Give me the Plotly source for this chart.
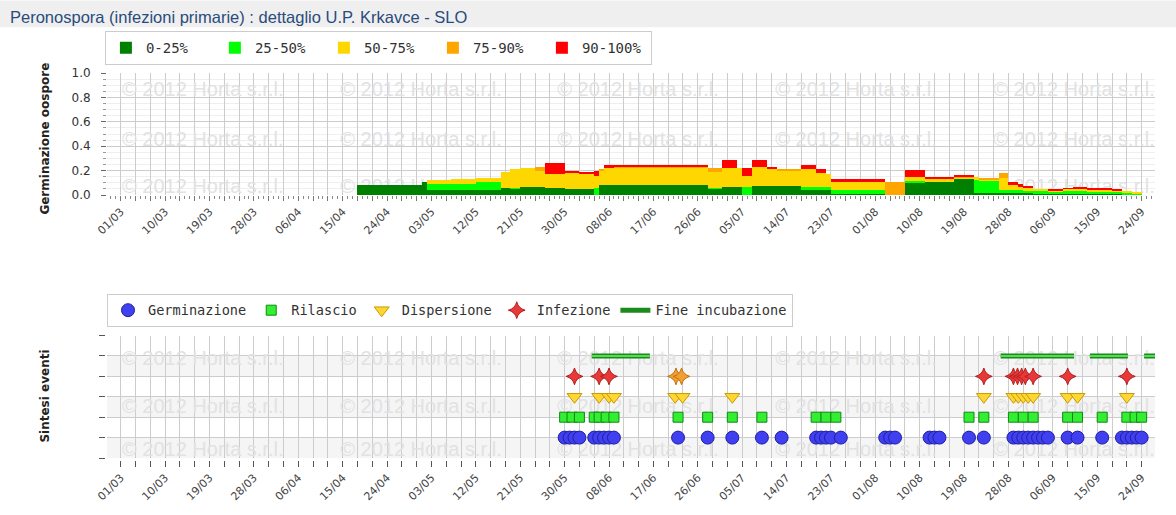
import pandas as pd
import plotly.graph_objects as go

YEAR = 2012

# ---------------- top chart: oospore germination (step segments) ----------------
seg_start = ["04-18", "05-01", "05-02", "05-07", "05-12", "05-17", "05-19", "05-21", "05-24", "05-26",
             "05-30", "06-02", "06-05", "06-06", "06-07", "06-09", "06-28", "07-01", "07-04", "07-05",
             "07-07", "07-10", "07-12", "07-17", "07-20", "07-22", "07-23", "08-03", "08-07", "08-11",
             "08-17", "08-21", "08-22", "08-26", "08-28", "08-30", "08-31", "09-02", "09-05", "09-08",
             "09-10", "09-13", "09-18", "09-20", "09-22"]
seg_days = [13, 1, 5, 5, 5, 2, 2, 3, 2, 4,
            3, 3, 1, 1, 2, 19, 3, 3, 1, 2,
            3, 2, 5, 3, 2, 1, 11, 4, 4, 6,
            4, 1, 4, 2, 2, 1, 2, 3, 3, 2,
            3, 5, 2, 2, 2]
p_0_25 = [0.082, 0.106, 0.041, 0.041, 0.041, 0.054, 0.054, 0.065, 0.065, 0.060,
          0.050, 0.050, 0.000, 0.082, 0.082, 0.082, 0.050, 0.070, 0.070, 0.000,
          0.074, 0.074, 0.074, 0.045, 0.045, 0.045, 0.010, 0.000, 0.106, 0.106,
          0.128, 0.020, 0.020, 0.020, 0.020, 0.020, 0.015, 0.010, 0.010, 0.015,
          0.015, 0.010, 0.010, 0.000, 0.000]
p_25_50 = [0.000, 0.000, 0.046, 0.046, 0.068, 0.000, 0.006, 0.000, 0.000, 0.000,
           0.000, 0.000, 0.060, 0.000, 0.000, 0.000, 0.010, 0.000, 0.000, 0.070,
           0.000, 0.000, 0.000, 0.025, 0.025, 0.025, 0.035, 0.000, 0.008, 0.000,
           0.000, 0.100, 0.100, 0.020, 0.020, 0.020, 0.020, 0.020, 0.015, 0.015,
           0.015, 0.020, 0.015, 0.020, 0.010]
p_50_75 = [0.000, 0.000, 0.035, 0.041, 0.032, 0.136, 0.155, 0.158, 0.131, 0.114,
           0.135, 0.125, 0.095, 0.113, 0.138, 0.140, 0.130, 0.153, 0.153, 0.085,
           0.156, 0.146, 0.121, 0.140, 0.110, 0.105, 0.065, 0.000, 0.033, 0.029,
           0.017, 0.030, 0.005, 0.100, 0.040, 0.030, 0.025, 0.017, 0.015, 0.020,
           0.025, 0.015, 0.015, 0.013, 0.010]
p_75_90 = [0.000, 0.000, 0.000, 0.000, 0.000, 0.000, 0.000, 0.000, 0.033, 0.000,
           0.000, 0.000, 0.000, 0.020, 0.000, 0.008, 0.028, 0.000, 0.000, 0.000,
           0.000, 0.000, 0.020, 0.000, 0.000, 0.000, 0.000, 0.106, 0.000, 0.000,
           0.010, 0.000, 0.008, 0.037, 0.000, 0.000, 0.000, 0.000, 0.000, 0.000,
           0.000, 0.000, 0.000, 0.000, 0.000]
p_90_100 = [0.000, 0.000, 0.000, 0.000, 0.000, 0.000, 0.000, 0.000, 0.000, 0.085,
            0.011, 0.008, 0.041, 0.000, 0.030, 0.012, 0.000, 0.067, 0.000, 0.068,
            0.060, 0.009, 0.000, 0.040, 0.035, 0.000, 0.018, 0.000, 0.057, 0.012,
            0.008, 0.000, 0.000, 0.000, 0.029, 0.023, 0.014, 0.000, 0.005, 0.005,
            0.010, 0.005, 0.007, 0.000, 0.000]
class_names = ["0-25%", "25-50%", "50-75%", "75-90%", "90-100%"]
class_colors = ["#008000", "#00ff00", "#ffd700", "#ffa500", "#ff0000"]

# ---------------- bottom chart: event synthesis ----------------
germinazione = ["05-30", "05-31", "06-01", "06-02", "06-05", "06-06", "06-07", "06-08", "06-09",
                "06-22", "06-28", "07-03", "07-09", "07-13", "07-20", "07-21", "07-22", "07-23",
                "07-25", "08-03", "08-04", "08-05", "08-12", "08-13", "08-14", "08-20", "08-23",
                "08-29", "08-30", "08-31", "09-01", "09-02", "09-03", "09-04", "09-05", "09-09",
                "09-11", "09-16", "09-20", "09-21", "09-22", "09-23", "09-24"]
rilascio = ["05-30", "05-31 12:00", "06-02", "06-05", "06-06", "06-07 10:00", "06-09", "06-22",
            "06-28", "07-03", "07-09", "07-20", "07-22", "07-24", "08-20", "08-23", "08-29",
            "08-31", "09-02", "09-09", "09-11", "09-16", "09-21", "09-22 16:00", "09-24"]
dispersione = ["06-01", "06-06", "06-08", "06-09", "06-21 10:00", "06-22 22:00", "07-03", "08-23",
               "08-29", "08-30", "08-31", "09-01", "09-02", "09-09", "09-11", "09-21"]
infezione = ["06-01", "06-06", "06-08", "08-23", "08-29", "08-29 20:00", "08-30 16:00",
             "08-31 10:00", "09-02", "09-09", "09-21"]
infezione_lieve = ["06-21 14:00", "06-22 17:00"]
fine_inc_start = ["06-04 12:00", "08-26 10:00", "09-13 12:00", "09-24 12:00"]
fine_inc_end = ["06-16 07:00", "09-10 07:00", "09-21 05:00", "09-27 00:00"]
event_level = {"Germinazione": 1, "Rilascio": 2, "Dispersione": 3, "Infezione": 4, "Fine incubazione": 5}

tick_labels = ["01/03", "10/03", "19/03", "28/03", "06/04", "15/04", "24/04", "03/05", "12/05",
               "21/05", "30/05", "08/06", "17/06", "26/06", "05/07", "14/07", "23/07", "01/08",
               "10/08", "19/08", "28/08", "06/09", "15/09", "24/09"]

watermark = "© 2012 Horta s.r.l."
wm_x = ["03-01 06:00", "04-14 12:00", "05-28 12:00", "07-11 17:00", "08-24 22:00"]
wm_y_top = [0.85, 0.44, 0.06]
wm_y_bottom = [4.8, 2.45, 0.35]


def dt(md):
    return pd.Timestamp(f"{YEAR}-{md}")


DAY_MS = 86400000
x_range = [dt("02-27 05:00"), dt("09-26 17:00")]
grid_vals = pd.date_range(dt("03-01"), dt("09-26"), freq="3D")
grid_text = [d.strftime("%d/%m") if d.strftime("%d/%m") in tick_labels else "" for d in grid_vals]

fig = go.Figure()

# watermarks (behind the data)
for xa, ya, rows in (("x", "y", wm_y_top), ("x2", "y2", wm_y_bottom)):
    wx, wy = [], []
    for r in rows:
        for c in wm_x:
            wx.append(dt(c))
            wy.append(r)
    fig.add_trace(go.Scatter(x=wx, y=wy, mode="text", text=[watermark] * len(wx),
                             textposition="middle right", cliponaxis=True,
                             textfont=dict(family="Liberation Sans", size=20, color="#e2e2e2"),
                             hoverinfo="skip", showlegend=False, xaxis=xa, yaxis=ya, zorder=-5))

seg_x = [dt(s) for s in seg_start]
seg_w = [n * DAY_MS for n in seg_days]
for name, vals, col in zip(class_names, [p_0_25, p_25_50, p_50_75, p_75_90, p_90_100], class_colors):
    fig.add_trace(go.Bar(x=seg_x, y=vals, width=seg_w, offset=0, name=name,
                         marker=dict(color=col, line=dict(width=0)),
                         legend="legend", xaxis="x", yaxis="y"))


def lvl(name, n):
    return [event_level[name]] * n


fig.add_trace(go.Scatter(x=[dt(d) for d in germinazione], y=lvl("Germinazione", len(germinazione)),
                         mode="markers", name="Germinazione", legend="legend2",
                         marker=dict(symbol="circle", size=13, color="#4040f0",
                                     line=dict(color="#2020a0", width=1)),
                         xaxis="x2", yaxis="y2"))
fig.add_trace(go.Scatter(x=[dt(d) for d in rilascio], y=lvl("Rilascio", len(rilascio)),
                         mode="markers", name="Rilascio", legend="legend2",
                         marker=dict(symbol="square", size=10, color="#33ee33",
                                     line=dict(color="#118811", width=1)),
                         xaxis="x2", yaxis="y2"))
fig.add_trace(go.Scatter(x=[dt(d) for d in dispersione], y=lvl("Dispersione", len(dispersione)),
                         mode="markers", name="Dispersione", legend="legend2",
                         marker=dict(symbol="triangle-down", size=13, color="#ffd633",
                                     line=dict(color="#c89a00", width=1)),
                         xaxis="x2", yaxis="y2"))
fig.add_trace(go.Scatter(x=[dt(d) for d in infezione], y=lvl("Infezione", len(infezione)),
                         mode="markers", name="Infezione", legend="legend2",
                         marker=dict(symbol="star-diamond", size=12, color="#e83838",
                                     line=dict(color="#b02020", width=1)),
                         xaxis="x2", yaxis="y2"))
fig.add_trace(go.Scatter(x=[dt(d) for d in infezione_lieve], y=lvl("Infezione", len(infezione_lieve)),
                         mode="markers", showlegend=False,
                         marker=dict(symbol="star-diamond", size=12, color="#f0a030",
                                     line=dict(color="#c07010", width=1)),
                         xaxis="x2", yaxis="y2"))
fx, fy = [], []
for s, e in zip(fine_inc_start, fine_inc_end):
    fx += [dt(s), dt(e), None]
    fy += [event_level["Fine incubazione"]] * 2 + [None]
fig.add_trace(go.Scatter(x=fx, y=fy, mode="lines", name="Fine incubazione", legend="legend2",
                         line=dict(color="#1c8a1c", width=5), xaxis="x2", yaxis="y2"))
fig.add_trace(go.Scatter(x=fx, y=fy, mode="lines", showlegend=False,
                         line=dict(color="#55dd55", width=2), xaxis="x2", yaxis="y2"))

tickfont = dict(family="DejaVu Sans", size=11, color="#444")
common_x = dict(type="date", range=x_range, tickmode="array", tickvals=grid_vals, ticktext=grid_text,
                tickangle=-45, ticks="outside", showgrid=True, gridcolor="#cccccc", gridwidth=1,
                zeroline=False, tickfont=tickfont, showline=True)

fig.update_layout(
    width=1176, height=515,
    margin=dict(l=107, r=21, t=73, b=55),
    paper_bgcolor="white", plot_bgcolor="white",
    barmode="stack", bargap=0,
    xaxis=dict(common_x, domain=[0, 1], anchor="y", ticklen=5, tickcolor="#777", linecolor="#777",
               minor=dict(dtick=DAY_MS, tick0=dt("03-01"), ticks="outside", ticklen=3,
                          tickcolor="#888", showgrid=False)),
    yaxis=dict(domain=[0.683, 1], anchor="x", range=[0, 1.0], dtick=0.2, tickformat=".1f",
               ticks="outside", ticklen=5, tickcolor="#666", showline=True, linecolor="#666",
               gridcolor="#cccccc", zeroline=False, ticklabelstandoff=8,
               tickfont=dict(family="DejaVu Sans", size=12, color="#333"),
               minor=dict(dtick=0.05, ticks="outside", ticklen=3, tickcolor="#999",
                          showgrid=True, gridcolor="#efefef")),
    xaxis2=dict(common_x, domain=[0, 1], anchor="y2", ticklen=6, tickcolor="#555",
                linecolor="#333", linewidth=3),
    yaxis2=dict(domain=[0, 0.318], anchor="x2", range=[0, 6], dtick=1, showticklabels=False,
                ticks="outside", ticklen=6, tickcolor="#555", showline=True, linecolor="#333",
                linewidth=2, gridcolor="#cccccc", zeroline=False),
    legend=dict(orientation="h", x=-0.002, y=1.1085, xanchor="left", yanchor="top",
                traceorder="normal", entrywidth=64, entrywidthmode="pixels",
                bgcolor="white", bordercolor="#cccccc", borderwidth=1,
                font=dict(family="DejaVu Sans Mono", size=14, color="#333")),
    legend2=dict(orientation="h", x=0, y=0.4264, xanchor="left", yanchor="top",
                 traceorder="normal",
                 bgcolor="white", bordercolor="#cccccc", borderwidth=1,
                 font=dict(family="DejaVu Sans Mono", size=13.6, color="#333")),
    shapes=[
        dict(type="rect", xref="paper", yref="paper", x0=-0.1021, x1=1.0201, y0=1.1189, y1=1.1886,
             fillcolor="#efefef", line=dict(width=0), layer="below"),
        dict(type="rect", xref="paper", yref="y2", x0=0, x1=1, y0=0, y1=1,
             fillcolor="#f5f5f5", line=dict(width=0), layer="below"),
        dict(type="rect", xref="paper", yref="y2", x0=0, x1=1, y0=2, y1=3,
             fillcolor="#f5f5f5", line=dict(width=0), layer="below"),
        dict(type="rect", xref="paper", yref="y2", x0=0, x1=1, y0=4, y1=5,
             fillcolor="#f5f5f5", line=dict(width=0), layer="below"),
    ],
    annotations=[
        dict(text="Peronospora (infezioni primarie) : dettaglio U.P. Krkavce - SLO",
             xref="paper", yref="paper", x=-0.0945, y=1.1447, xanchor="left", yanchor="middle",
             showarrow=False,
             font=dict(family="Liberation Sans", size=16.5, color="#2a4b7c")),
        dict(text="<b>Germinazione oospore</b>", xref="paper", yref="paper", x=-0.059, y=0.83,
             xanchor="center", yanchor="middle", textangle=-90, showarrow=False,
             font=dict(family="DejaVu Sans", size=12, color="#222")),
        dict(text="<b>Sintesi eventi</b>", xref="paper", yref="paper", x=-0.059, y=0.16,
             xanchor="center", yanchor="middle", textangle=-90, showarrow=False,
             font=dict(family="DejaVu Sans", size=12, color="#222")),
    ],
)

fig.write_html("out.html", config={"displayModeBar": False},
               post_script="document.body.style.margin='0px';")
